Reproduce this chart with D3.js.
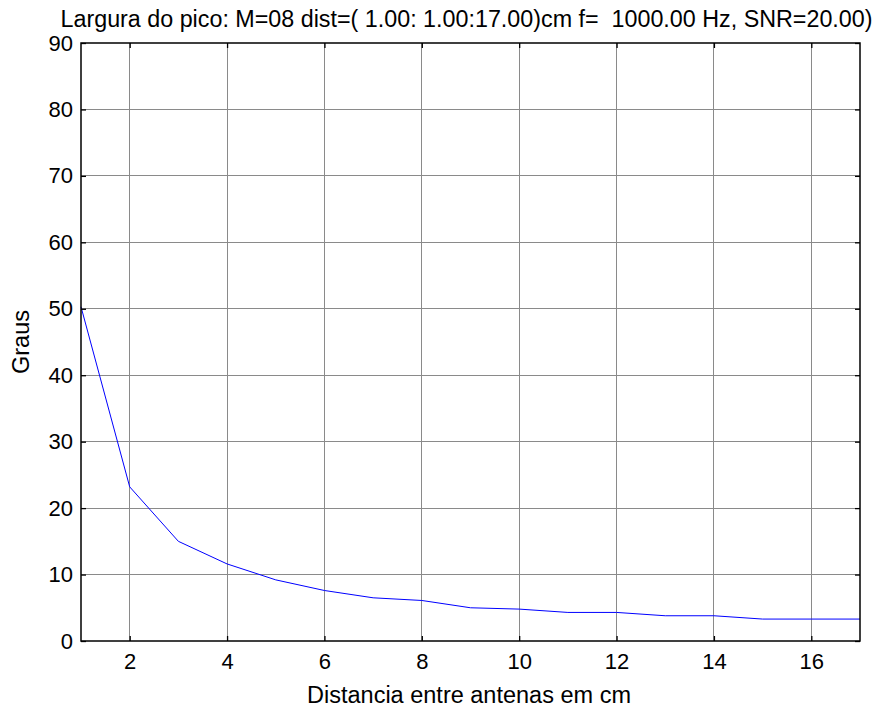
<!DOCTYPE html>
<html><head><meta charset="utf-8">
<script src="https://cdn.jsdelivr.net/npm/d3@7"></script>
<style>body{margin:0;background:#fff;} text{font-family:"Liberation Sans",Arial,sans-serif;fill:#000;white-space:pre;}</style>
</head><body>
<svg id="c" width="879" height="707"></svg>
<script>
const distances = [1,2,3,4,5,6,7,8,9,10,11,12,13,14,15,16,17];
const graus = [50.3,23.2,15.0,11.6,9.2,7.6,6.5,6.1,5.0,4.8,4.3,4.3,3.8,3.8,3.3,3.3,3.3];
const xTicks = [2,4,6,8,10,12,14,16];
const yTicks = [0,10,20,30,40,50,60,70,80,90];
const title = "Largura do pico: M=08 dist=( 1.00: 1.00:17.00)cm f=  1000.00 Hz, SNR=20.00)";
const xLabel = "Distancia entre antenas em cm";
const yLabel = "Graus";

const svg = d3.select("#c");
const L=81, R=860, T=43, B=641;
const x = d3.scaleLinear().domain([1,17]).range([L,R]);
const y = d3.scaleLinear().domain([0,90]).range([B,T]);

// grid
svg.append("g").selectAll("line").data(xTicks).join("line")
  .attr("x1",d=>x(d)).attr("x2",d=>x(d)).attr("y1",T).attr("y2",B)
  .attr("stroke","#8a8a8a").attr("stroke-width",1).attr("shape-rendering","crispEdges");
svg.append("g").selectAll("line").data(yTicks.slice(1,-1)).join("line")
  .attr("y1",d=>y(d)).attr("y2",d=>y(d)).attr("x1",L).attr("x2",R)
  .attr("stroke","#8a8a8a").attr("stroke-width",1).attr("shape-rendering","crispEdges");

// line
svg.append("path").datum(distances.map((d,i)=>[d,graus[i]]))
  .attr("fill","none").attr("stroke","#0000ff").attr("stroke-width",1)
  .attr("d",d3.line().x(d=>x(d[0])).y(d=>y(d[1])));

// axes with inward ticks
const ax = (g,axis)=>{g.call(axis); g.select(".domain").remove(); g.selectAll("line").attr("stroke","#000").attr("stroke-width",1.3);};
svg.append("g").attr("transform",`translate(0,${B})`)
  .call(g=>ax(g,d3.axisBottom(x).tickValues(xTicks).tickSize(-5).tickPadding(12).tickFormat(d3.format("d"))))
  .selectAll("text").attr("font-size",22).attr("font-family","Liberation Sans, Arial, sans-serif");
svg.append("g").attr("transform",`translate(0,${T})`)
  .call(g=>ax(g,d3.axisTop(x).tickValues(xTicks).tickSize(-5).tickFormat("")));
svg.append("g").attr("transform",`translate(${L},0)`)
  .call(g=>ax(g,d3.axisLeft(y).tickValues(yTicks).tickSize(-5).tickPadding(8).tickFormat(d3.format("d"))))
  .selectAll("text").attr("font-size",22).attr("font-family","Liberation Sans, Arial, sans-serif");
svg.append("g").attr("transform",`translate(${R},0)`)
  .call(g=>ax(g,d3.axisRight(y).tickValues(yTicks).tickSize(-5).tickFormat("")));

// box
svg.append("rect").attr("x",L).attr("y",T).attr("width",R-L).attr("height",B-T)
  .attr("fill","none").attr("stroke","#000").attr("stroke-width",1.5);

svg.append("text").attr("x",466.5).attr("y",27).attr("text-anchor","middle").attr("font-size",23.3).text(title);
svg.append("text").attr("x",469).attr("y",703).attr("text-anchor","middle").attr("font-size",23.5).text(xLabel);
svg.append("text").attr("transform",`translate(29,342) rotate(-90)`).attr("text-anchor","middle").attr("font-size",23.5).text(yLabel);
</script>
</body></html>
